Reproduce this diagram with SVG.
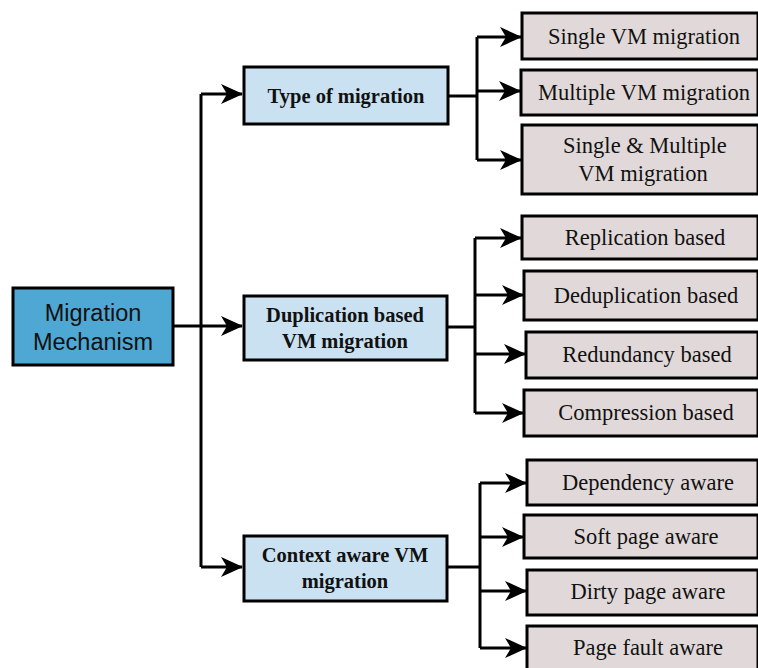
<svg xmlns="http://www.w3.org/2000/svg" width="758" height="668" viewBox="0 0 758 668">
<style>
.root{fill:#4FA8D4;stroke:#000;stroke-width:3}
.mid{fill:#CAE1F1;stroke:#000;stroke-width:3}
.leaf{fill:#E1D9D9;stroke:#000;stroke-width:3}
.t1{font-family:"Liberation Sans",Arial,sans-serif;font-size:23.5px;fill:#111;text-anchor:middle}
.t2{font-family:"Liberation Serif","Times New Roman",serif;font-size:20.5px;font-weight:bold;fill:#111;text-anchor:middle}
.t3{font-family:"Liberation Serif","Times New Roman",serif;font-size:22.5px;fill:#111;text-anchor:middle}
.c{fill:none;stroke:#000;stroke-width:3}
</style>
<defs>
<marker id="ah" viewBox="0 0 22 20" refX="21" refY="10" markerWidth="22" markerHeight="20" markerUnits="userSpaceOnUse" orient="auto">
<path d="M0,0 L22,10 L0,20 L6,10 Z" fill="#000"/>
</marker>
</defs>
<rect width="758" height="668" fill="#fff"/>
<g id="connectors">
<path class="c" d="M173,326 H201"/>
<path class="c" d="M201,94 V567"/>
<path class="c" d="M201,94 H242" marker-end="url(#ah)"/>
<path class="c" d="M201,326 H242" marker-end="url(#ah)"/>
<path class="c" d="M201,567 H242" marker-end="url(#ah)"/>
<path class="c" d="M448,96 H477"/>
<path class="c" d="M477,37 V160"/>
<path class="c" d="M477,37 H521" marker-end="url(#ah)"/>
<path class="c" d="M477,91 H520" marker-end="url(#ah)"/>
<path class="c" d="M477,160 H521" marker-end="url(#ah)"/>
<path class="c" d="M447,327 H475"/>
<path class="c" d="M475,238 V413"/>
<path class="c" d="M475,238 H521" marker-end="url(#ah)"/>
<path class="c" d="M475,295 H523" marker-end="url(#ah)"/>
<path class="c" d="M475,354 H525" marker-end="url(#ah)"/>
<path class="c" d="M475,413 H523" marker-end="url(#ah)"/>
<path class="c" d="M447,567 H480"/>
<path class="c" d="M480,483 V648"/>
<path class="c" d="M480,483 H526" marker-end="url(#ah)"/>
<path class="c" d="M480,537 H523" marker-end="url(#ah)"/>
<path class="c" d="M480,591 H526" marker-end="url(#ah)"/>
<path class="c" d="M480,648 H526" marker-end="url(#ah)"/>
</g>
<g id="root">
<rect class="root" x="13" y="288" width="160" height="77"/>
<text class="t1" x="93" y="321">Migration</text>
<text class="t1" x="93" y="350">Mechanism</text>
</g>
<g id="type">
<rect class="mid" x="244" y="67" width="204" height="57"/>
<text class="t2" x="346" y="103">Type of migration</text>
</g>
<g id="dup">
<rect class="mid" x="244" y="296" width="203" height="64"/>
<text class="t2" x="345" y="322">Duplication based</text>
<text class="t2" x="345" y="348">VM migration</text>
</g>
<g id="ctx">
<rect class="mid" x="244" y="536" width="203" height="65"/>
<text class="t2" x="345" y="562">Context aware VM</text>
<text class="t2" x="345" y="588">migration</text>
</g>
<g id="single">
<rect class="leaf" x="522" y="13" width="236" height="46"/>
<text class="t3" x="644" y="44">Single VM migration</text>
</g>
<g id="multiple">
<rect class="leaf" x="521" y="70" width="237" height="45"/>
<text class="t3" x="644" y="100">Multiple VM migration</text>
</g>
<g id="singlemultiple">
<rect class="leaf" x="522" y="125" width="236" height="69"/>
<text class="t3" x="645" y="153">Single &amp; Multiple</text>
<text class="t3" x="643" y="181">VM migration</text>
</g>
<g id="replication">
<rect class="leaf" x="522" y="216" width="236" height="43"/>
<text class="t3" x="645" y="245">Replication based</text>
</g>
<g id="dedup">
<rect class="leaf" x="524" y="271" width="234" height="49"/>
<text class="t3" x="646" y="303">Deduplication based</text>
</g>
<g id="redundancy">
<rect class="leaf" x="526" y="332" width="232" height="46"/>
<text class="t3" x="647" y="362">Redundancy based</text>
</g>
<g id="compression">
<rect class="leaf" x="524" y="390" width="234" height="46"/>
<text class="t3" x="646" y="420">Compression based</text>
</g>
<g id="dependency">
<rect class="leaf" x="527" y="460" width="231" height="45"/>
<text class="t3" x="648" y="490">Dependency aware</text>
</g>
<g id="softpage">
<rect class="leaf" x="524" y="515" width="234" height="43"/>
<text class="t3" x="646" y="544">Soft page aware</text>
</g>
<g id="dirtypage">
<rect class="leaf" x="527" y="570" width="231" height="45"/>
<text class="t3" x="648" y="599">Dirty page aware</text>
</g>
<g id="pagefault">
<rect class="leaf" x="527" y="626" width="231" height="44"/>
<text class="t3" x="648" y="655">Page fault aware</text>
</g>
</svg>
